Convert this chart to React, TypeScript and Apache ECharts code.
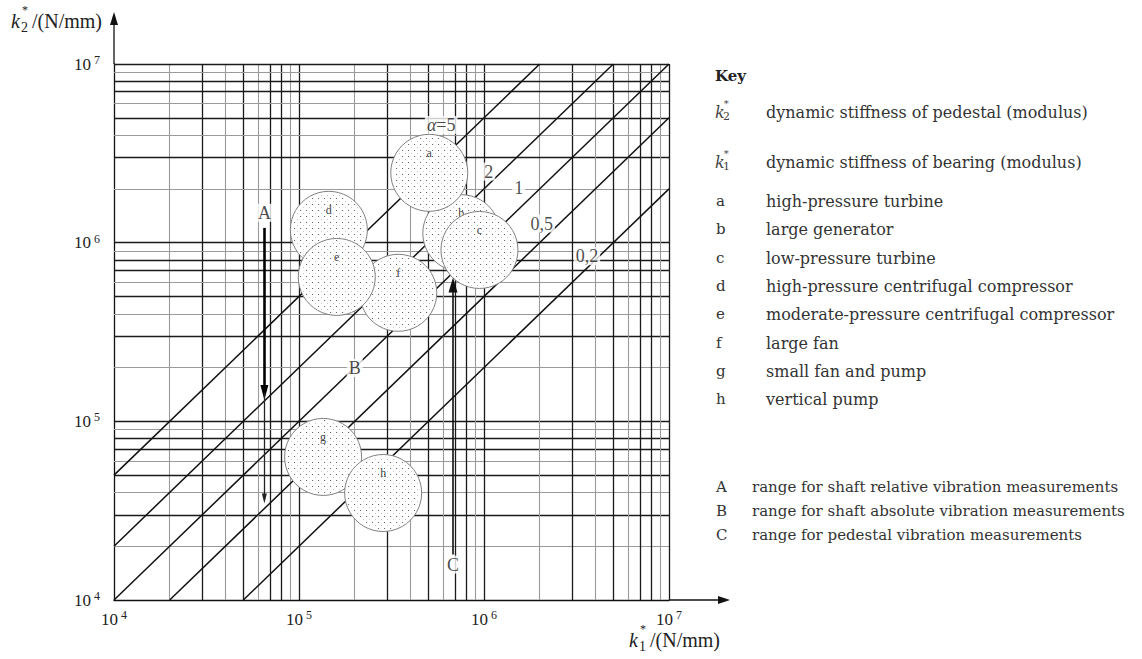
import React, { useEffect, useRef } from "react";
import * as echarts from "echarts";

// ---- data ----
const decadeTicks = [1e4, 1e5, 1e6, 1e7];
const decadeTickExponents = ["4", "5", "6", "7"];
const decades = [1e4, 1e5, 1e6];
const gridMultipliers = [2, 3, 4, 5, 6, 7, 8, 9, 10];
const gridMultiplierDark = [false, true, false, true, false, true, true, false, true];

const alphaRatios = [5, 2, 1, 0.5, 0.2];
const alphaLabels = ["α=5", "2", "1", "0,5", "0,2"];
const alphaLabelK1 = [5.87e5, 1.06e6, 1.54e6, 2.05e6, 3.6e6];
const alphaLabelK2 = [4.56e6, 2.5e6, 2.02e6, 1.28e6, 8.4e5];

// drawing order (later on top)
const machineLetters = ["b", "a", "c", "d", "f", "e", "g", "h"];
const machineK1 = [7.54e5, 5.06e5, 9.45e5, 1.45e5, 3.44e5, 1.6e5, 1.35e5, 2.85e5];
const machineK2 = [1.13e6, 2.46e6, 9.1e5, 1.18e6, 5.24e5, 6.43e5, 6.32e4, 3.97e4];

const rangeLetters = ["A", "B", "C"];
const rangeLabelK1 = [6.5e4, 2.0e5, 6.8e5];
const rangeLabelK2 = [1.47e6, 1.99e5, 1.58e4];

const arrowAK1 = 6.5e4;
const arrowAK2 = [1.21e6, 1.45e5, 3.7e4];
const arrowCK1 = 6.8e5;
const arrowCK2 = [1.8e4, 5.8e5];

const keySymbols = ["a", "b", "c", "d", "e", "f", "g", "h"];
const keyTexts = [
  "high-pressure turbine",
  "large generator",
  "low-pressure turbine",
  "high-pressure centrifugal compressor",
  "moderate-pressure centrifugal compressor",
  "large fan",
  "small fan and pump",
  "vertical pump",
];
const keyRowY = [201, 229, 258, 286, 314, 343, 371, 399];
const rangeTexts = [
  "range for shaft relative vibration measurements",
  "range for shaft absolute vibration measurements",
  "range for pedestal vibration measurements",
];
const rangeRowY = [487, 511, 535];
const stiffnessSubs = ["2", "1"];
const stiffnessTexts = [
  "dynamic stiffness of pedestal (modulus)",
  "dynamic stiffness of bearing (modulus)",
];
const stiffnessRowY = [112, 162];
const keyTitleY = 76;

// ---- layout ----
const L = 114;
const T = 64;
const W = 555;
const H = 536;
const CHART_FONT = "Liberation Serif";
const KEY_FONT = "DejaVu Serif";
const CIRCLE_R = 38.5;
const DOT_STEP = 6;

function kSymbol(x: number, y: number, sub: string, size: number, font: string, color: string) {
  return {
    type: "group",
    children: [
      { type: "text", x, y, style: { text: "k", font: `italic ${size}px "${font}"`, fill: color, textVerticalAlign: "middle" } },
      { type: "text", x: x + size * 0.55, y: y - size * 0.55, style: { text: "*", font: `${Math.round(size * 0.6)}px "${font}"`, fill: color, textVerticalAlign: "middle" } },
      { type: "text", x: x + size * 0.5, y: y + size * 0.3, style: { text: sub, font: `${Math.round(size * 0.68)}px "${font}"`, fill: color, textVerticalAlign: "middle" } },
    ],
  };
}

function renderCircle(params: any, api: any) {
  const c = api.coord([api.value(0), api.value(1)]);
  const cx = c[0];
  const cy = c[1];
  const r = CIRCLE_R;
  const children: any[] = [
    { type: "circle", shape: { cx, cy, r }, style: { fill: "#ffffff", stroke: "#808080", lineWidth: 1 } },
  ];
  const inner = (r - 2) * (r - 2);
  const x0 = Math.ceil((cx - r) / DOT_STEP) * DOT_STEP;
  const y0 = Math.ceil((cy - r) / DOT_STEP) * DOT_STEP;
  for (let y = y0; y <= cy + r; y += DOT_STEP) {
    for (let x = x0; x <= cx + r; x += DOT_STEP) {
      const dx = x + 0.5 - cx;
      const dy = y + 0.5 - cy;
      if (dx * dx + dy * dy < inner) {
        children.push({ type: "rect", shape: { x, y, width: 1.1, height: 1.1 }, style: { fill: "#6a6a6a" } });
      }
      const dx2 = x + 3.5 - cx;
      const dy2 = y + 3.5 - cy;
      if (dx2 * dx2 + dy2 * dy2 < inner) {
        children.push({ type: "rect", shape: { x: x + 3, y: y + 3, width: 1, height: 1 }, style: { fill: "#c4c4c4" } });
      }
    }
  }
  children.push({
    type: "text",
    x: cx,
    y: cy - 20,
    style: {
      text: machineLetters[params.dataIndex],
      font: `12px "${CHART_FONT}"`,
      fill: "#444",
      textAlign: "center",
      textVerticalAlign: "middle",
    },
  });
  return { type: "group", children };
}

export default function App() {
  const ref = useRef<HTMLDivElement>(null);

  useEffect(() => {
    if (!ref.current) return;
    const chart = echarts.init(ref.current, undefined, { renderer: "svg" });

    const gridLines: any[] = [];
    decades.forEach((d) => {
      gridMultipliers.forEach((m, i) => {
        const style = gridMultiplierDark[i]
          ? { color: "#1a1a1a", width: 1.3, type: "solid" }
          : { color: "#9a9a9a", width: 1.1, type: "solid" };
        gridLines.push({ xAxis: d * m, lineStyle: style });
        gridLines.push({ yAxis: d * m, lineStyle: style });
      });
    });

    const tickFormatter = (v: number) => {
      const idx = decadeTicks.findIndex((t) => Math.abs(Math.log10(t) - Math.log10(v)) < 1e-6);
      return idx >= 0 ? `{b|10}{s|${decadeTickExponents[idx]}}` : "";
    };
    const tickRich = {
      b: { fontFamily: CHART_FONT, fontSize: 17, color: "#222", lineHeight: 20 },
      s: { fontFamily: CHART_FONT, fontSize: 12, color: "#222", lineHeight: 12, verticalAlign: "top", padding: [0, 0, 0, 3] },
    };

    const diagSeries = alphaRatios.map((a) => {
      const k1s = Math.max(1e4, 1e4 / a);
      const k1e = Math.min(1e7, 1e7 / a);
      return {
        type: "line",
        z: 2,
        silent: true,
        showSymbol: false,
        symbol: "none",
        lineStyle: { color: "#111", width: 1.5 },
        data: [
          [k1s, k1s * a],
          [k1e, k1e * a],
        ],
      };
    });

    const option: any = {
      animation: false,
      backgroundColor: "#ffffff",
      grid: { left: L, top: T, width: W, height: H, containLabel: false },
      xAxis: {
        type: "log",
        logBase: 10,
        min: 1e4,
        max: 1e7,
        axisLine: { show: true, lineStyle: { color: "#111", width: 1.3 } },
        axisTick: { show: false },
        splitLine: { show: false },
        minorSplitLine: { show: false },
        axisLabel: { margin: 9, formatter: tickFormatter, rich: tickRich },
      },
      yAxis: {
        type: "log",
        logBase: 10,
        min: 1e4,
        max: 1e7,
        axisLine: { show: true, lineStyle: { color: "#111", width: 1.3 } },
        axisTick: { show: false },
        splitLine: { show: false },
        minorSplitLine: { show: false },
        axisLabel: { margin: 14, formatter: tickFormatter, rich: tickRich },
      },
      series: [
        {
          type: "line",
          z: 1,
          silent: true,
          data: [],
          markLine: {
            z: 1,
            silent: true,
            symbol: ["none", "none"],
            label: { show: false },
            emphasis: { disabled: true },
            data: gridLines,
          },
        },
        ...diagSeries,
        {
          type: "custom",
          z: 3,
          silent: true,
          renderItem: renderCircle,
          data: machineLetters.map((n, i) => [machineK1[i], machineK2[i]]),
        },
        {
          type: "line",
          z: 4,
          silent: true,
          data: [],
          markLine: {
            z: 5,
            silent: true,
            label: { show: false },
            emphasis: { disabled: true },
            symbol: ["none", "triangle"],
            data: [
              [
                { coord: [arrowAK1, arrowAK2[0]], symbol: "none" },
                { coord: [arrowAK1, arrowAK2[1]], symbol: "triangle", symbolSize: [8, 15], lineStyle: { color: "#000", width: 2.6, type: "solid" } },
              ],
              [
                { coord: [arrowAK1, arrowAK2[1]], symbol: "none" },
                { coord: [arrowAK1, arrowAK2[2]], symbol: "triangle", symbolSize: [5, 10], lineStyle: { color: "#222", width: 1.3, type: "solid" } },
              ],
              [
                { coord: [arrowCK1, arrowCK2[0]], symbol: "none" },
                { coord: [arrowCK1, arrowCK2[1]], symbol: "triangle", symbolSize: [9, 15], lineStyle: { color: "#111", width: 1.6, type: "solid" } },
              ],
            ],
          },
        },
        {
          type: "scatter",
          z: 6,
          silent: true,
          symbolSize: 0,
          label: {
            show: true,
            position: "inside",
            formatter: (p: any) => String(p.name).replace("α", "{i|α}"),
            fontFamily: CHART_FONT,
            fontSize: 18,
            color: "#1a1a1a",
            backgroundColor: "#ffffff",
            padding: [0, 2, 0, 2],
            rich: { i: { fontFamily: CHART_FONT, fontStyle: "italic", fontSize: 18, color: "#1a1a1a" } },
          },
          data: [
            ...alphaLabels.map((n, i) => ({ name: n, value: [alphaLabelK1[i], alphaLabelK2[i]] })),
            ...rangeLetters.map((n, i) => ({ name: n, value: [rangeLabelK1[i], rangeLabelK2[i]] })),
          ],
        },
      ],
      graphic: [
        // axis extensions with arrowheads
        { type: "line", shape: { x1: L + W, y1: T + H, x2: 724, y2: T + H }, style: { stroke: "#111", lineWidth: 1.3 } },
        { type: "polygon", shape: { points: [[730, T + H], [718, T + H - 4], [718, T + H + 4]] }, style: { fill: "#111" } },
        { type: "line", shape: { x1: L, y1: T, x2: L, y2: 20 }, style: { stroke: "#111", lineWidth: 1.3 } },
        { type: "polygon", shape: { points: [[L, 12], [L - 4, 25], [L + 4, 25]] }, style: { fill: "#111" } },
        // axis names
        kSymbol(11, 21, "2", 20, CHART_FONT, "#222"),
        { type: "text", x: 32, y: 21, style: { text: "/(N/mm)", font: `20px "${CHART_FONT}"`, fill: "#222", textVerticalAlign: "middle" } },
        kSymbol(629, 640, "1", 20, CHART_FONT, "#222"),
        { type: "text", x: 650, y: 640, style: { text: "/(N/mm)", font: `20px "${CHART_FONT}"`, fill: "#222", textVerticalAlign: "middle" } },
        // key
        { type: "text", x: 715, y: keyTitleY, style: { text: "Key", font: `bold 15px "${KEY_FONT}"`, fill: "#222", textVerticalAlign: "middle" } },
        ...stiffnessSubs.map((s, i) => kSymbol(715, stiffnessRowY[i], s, 16, KEY_FONT, "#444")),
        ...stiffnessTexts.map((t, i) => ({ type: "text", x: 766, y: stiffnessRowY[i], style: { text: t, font: `16px "${KEY_FONT}"`, fill: "#333", textVerticalAlign: "middle" } })),
        ...keySymbols.map((s, i) => ({ type: "text", x: 716, y: keyRowY[i], style: { text: s, font: `15px "${KEY_FONT}"`, fill: "#333", textVerticalAlign: "middle" } })),
        ...keyTexts.map((t, i) => ({ type: "text", x: 766, y: keyRowY[i], style: { text: t, font: `16px "${KEY_FONT}"`, fill: "#333", textVerticalAlign: "middle" } })),
        ...rangeLetters.map((s, i) => ({ type: "text", x: 716, y: rangeRowY[i], style: { text: s, font: `15px "${KEY_FONT}"`, fill: "#333", textVerticalAlign: "middle" } })),
        ...rangeTexts.map((t, i) => ({ type: "text", x: 752, y: rangeRowY[i], style: { text: t, font: `15px "${KEY_FONT}"`, fill: "#333", textVerticalAlign: "middle" } })),
      ],
    };

    chart.setOption(option);
    return () => chart.dispose();
  }, []);

  return (
    <div
      ref={ref}
      style={{ position: "fixed", left: 0, top: 0, width: 1142, height: 659, background: "#fff" }}
    />
  );
}
